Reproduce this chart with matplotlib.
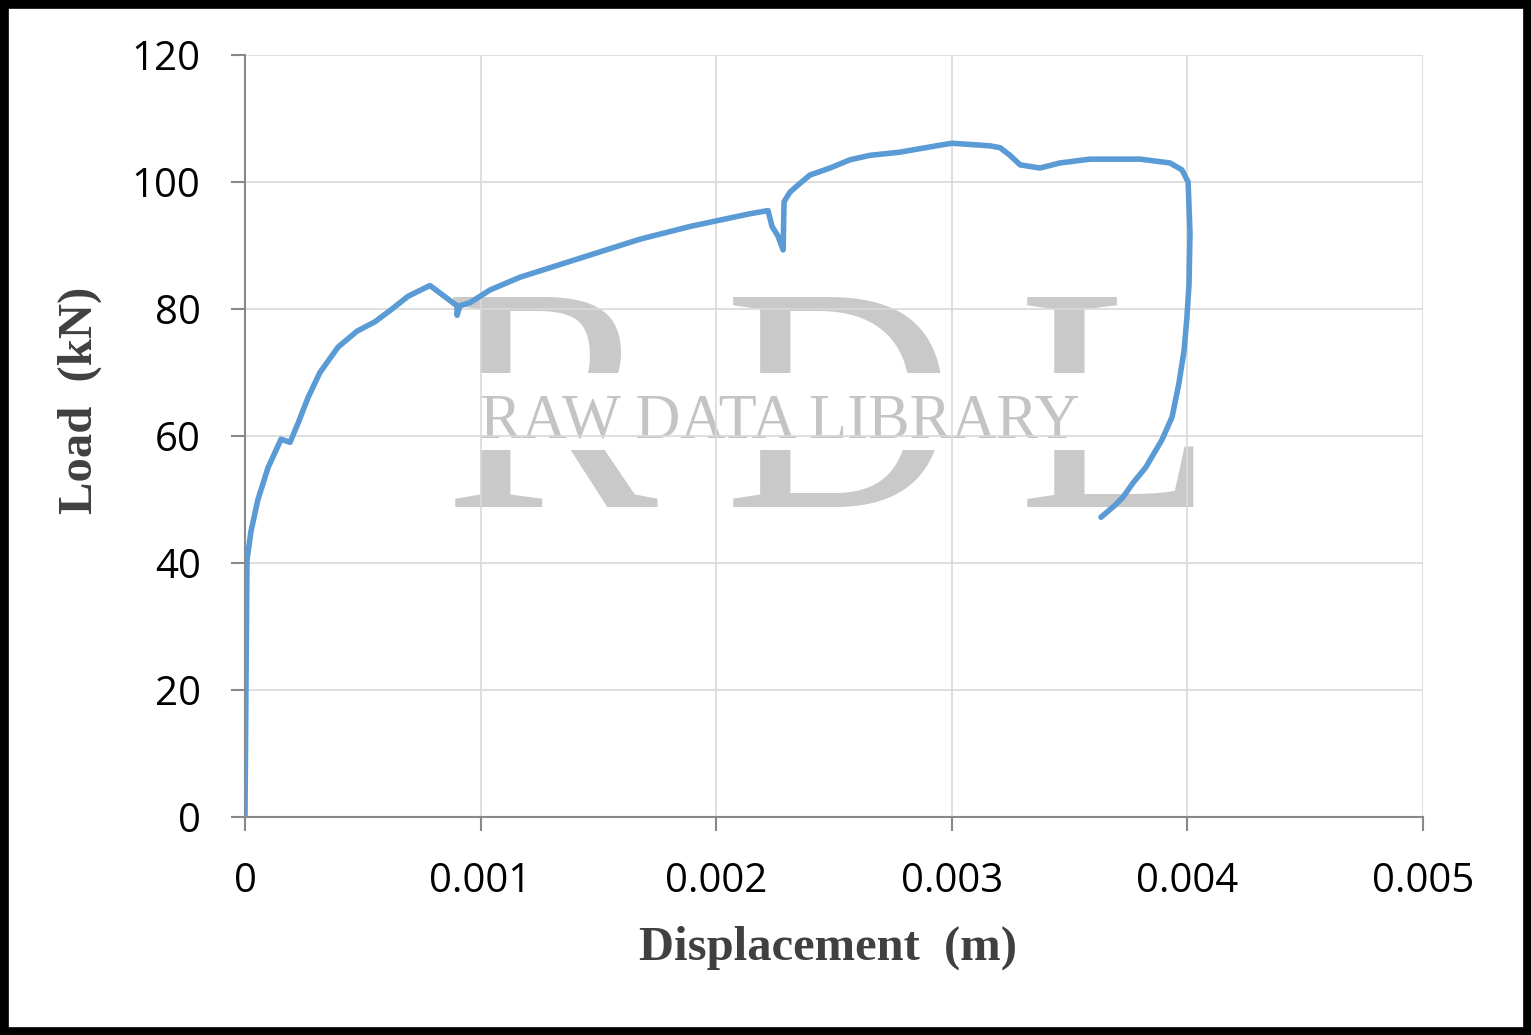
import matplotlib
matplotlib.use("Agg")
import matplotlib.pyplot as plt
from matplotlib.patches import Rectangle

# Displacement (m) and Load (kN)
displacement = [0.0, 0.000002, 0.000004, 0.0000085, 0.0000255, 0.000055, 0.0000976,
                0.000153, 0.000191, 0.000225, 0.000267, 0.000318, 0.000395, 0.000475,
                0.000552, 0.000624, 0.000692, 0.000785, 0.0009, 0.0009, 0.000912,
                0.000955, 0.00104, 0.001167, 0.001337, 0.001507, 0.001677, 0.001889,
                0.002016, 0.002143, 0.00222, 0.002237, 0.002262, 0.002284, 0.002288,
                0.002313, 0.002356, 0.002398, 0.002483, 0.002568, 0.002653, 0.00278,
                0.00295, 0.003001, 0.003162, 0.003205, 0.003247, 0.00329, 0.003374,
                0.003459, 0.003587, 0.003799, 0.003926, 0.003977, 0.004003, 0.004011,
                0.004007, 0.003998, 0.003986, 0.003964, 0.003935, 0.003892, 0.003824,
                0.003769, 0.003727, 0.003693, 0.003633]
load = [0.0, 10.0, 20.0, 40.5, 45.0, 50.0, 55.0,
        59.5, 59.0, 62.0, 66.0, 70.0, 74.0, 76.5,
        78.0, 80.0, 82.0, 83.7, 80.5, 79.0, 80.5,
        81.0, 83.0, 85.0, 87.0, 89.0, 91.0, 93.0,
        94.0, 95.0, 95.5, 93.0, 91.5, 89.3, 96.9,
        98.4, 99.8, 101.1, 102.2, 103.5, 104.2, 104.7,
        105.8, 106.1, 105.7, 105.4, 104.2, 102.7, 102.2,
        103.0, 103.6, 103.6, 103.0, 101.9, 100.0, 92.0,
        84.0, 78.7, 73.5, 68.3, 63.0, 59.4, 55.1,
        52.6, 50.4, 49.1, 47.2]

x_ticks = [0, 0.001, 0.002, 0.003, 0.004, 0.005]
x_tick_labels = ["0", "0.001", "0.002", "0.003", "0.004", "0.005"]
y_ticks = [0, 20, 40, 60, 80, 100, 120]

W, H = 1531, 1035
fig = plt.figure(figsize=(W/100, H/100), dpi=100)
ax = fig.add_axes([245/W, 1-817/H, (1423-245)/W, (817-55)/H])

def fx(px):
    return px / W

def fy(py):
    return 1 - py / H

# watermark (drawn inside the axes, beneath gridlines and the curve)
wm_color = "#c9c9c9"
for letter, left in (("R", 444), ("D", 724), ("L", 1018)):
    ax.text(fx(left), fy(507), letter, transform=fig.transFigure, fontsize=231,
            family="Liberation Serif", color=wm_color, ha="left", va="baseline",
            zorder=0.1, clip_on=False)
ax.add_patch(Rectangle((fx(472), fy(450)), fx(1095) - fx(472), fy(373) - fy(450),
                       transform=fig.transFigure, facecolor="white", edgecolor="none",
                       zorder=0.15, clip_on=False))
ax.text(fx(480), fy(438), "RAW DATA LIBRARY", transform=fig.transFigure, fontsize=45,
        family="Liberation Serif", color="#c4c4c4", ha="left", va="baseline",
        zorder=0.2, clip_on=False)

ax.plot(displacement, load, color="#5b9bd5", lw=4.0, solid_joinstyle="round",
        solid_capstyle="round", zorder=3)

ax.set_xlim(0, 0.005)
ax.set_ylim(0, 120)
ax.set_xticks(x_ticks)
ax.set_xticklabels(x_tick_labels)
ax.set_yticks(y_ticks)
ax.grid(True, color="#d9d9d9", lw=1.2)
ax.set_axisbelow(True)
for s in ["top", "right"]:
    ax.spines[s].set_visible(False)
for s in ["left", "bottom"]:
    ax.spines[s].set_color("#898989")
    ax.spines[s].set_linewidth(1.5)
ax.tick_params(axis="both", direction="out", length=10, width=1.5, color="#898989",
               labelsize=29, labelcolor="black")
ax.tick_params(axis="x", pad=22)
ax.tick_params(axis="y", pad=22)
for lab in ax.get_xticklabels() + ax.get_yticklabels():
    lab.set_family("Open Sans")

fig.text(fx(828), fy(948), "Displacement  (m)", family="Liberation Serif",
         fontweight="bold", fontsize=35, color="#404040", ha="center", va="center")
fig.text(fx(80), fy(400), "Load  (kN)", family="Liberation Serif", fontweight="bold",
         fontsize=35, color="#404040", ha="center", va="center", rotation=90)

fig.patches.append(Rectangle((0, 0), 1, 1, transform=fig.transFigure, fill=False,
                             edgecolor="black", lw=12, zorder=10))

fig.savefig("out.png", dpi=100)
